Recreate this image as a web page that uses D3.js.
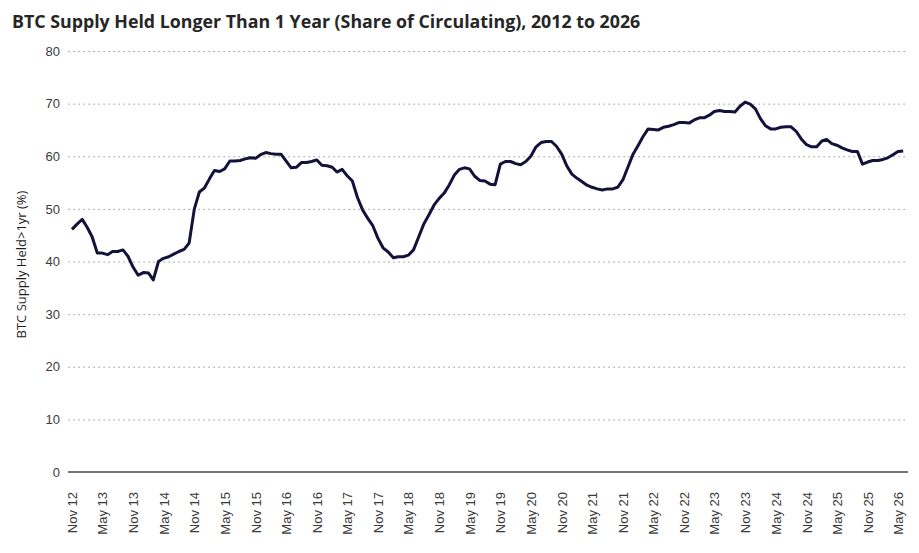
<!DOCTYPE html>
<html lang="en">
<head>
	<meta charset="UTF-8">
	<title>BTC Supply Held Longer Than 1 Year</title>
	<script src="https://cdn.jsdelivr.net/npm/d3@7"></script>
	<style>
		body { margin: 0; background: #fff; }
		.title {
			font-family: "Open Sans", sans-serif;
			font-weight: 700;
			font-size: 17.8px;
			fill: #262626;
		}
		.tick text {
			font-family: "Liberation Sans", Arial, sans-serif;
			font-size: 13px;
			fill: #3a3a3a;
		}
		.grid-line {
			stroke: #7a7a7a;
			stroke-width: 1;
			stroke-dasharray: 1.2 3.8;
		}
		.axis-title {
			font-family: "Open Sans", sans-serif;
			font-size: 13px;
			fill: #1e1e1e;
		}
	</style>
</head>
<body>
	<div id="container"></div>
</body>
<script>
	const width = 919,
		height = 553;

	// monthly readings, first month Nov 2012
	const startMonth = new Date(2012, 10, 1);
	const heldOver1yr = [
		46.1, 47.1, 48.0, 46.4, 44.7, 41.6, 41.6, 41.3, 41.9, 41.9, 42.2, 41.0,
		38.9, 37.4, 37.9, 37.8, 36.5, 40.0, 40.6, 40.9, 41.4, 41.9, 42.3, 43.5,
		50.0, 53.2, 54.0, 55.8, 57.3, 57.1, 57.6, 59.1, 59.1, 59.2, 59.5, 59.7,
		59.6, 60.3, 60.7, 60.5, 60.4, 60.4, 59.1, 57.8, 57.9, 58.8, 58.8, 59.0,
		59.3, 58.3, 58.2, 57.9, 57.0, 57.5, 56.3, 55.3, 52.2, 49.8, 48.2, 46.8,
		44.4, 42.6, 41.8, 40.7, 40.9, 40.9, 41.2, 42.2, 44.6, 47.1, 48.9, 50.7,
		52.0, 53.0, 54.6, 56.5, 57.5, 57.8, 57.6, 56.2, 55.4, 55.3, 54.7, 54.6,
		58.5, 59.0, 59.0, 58.6, 58.4, 59.0, 60.0, 61.8, 62.6, 62.8, 62.8, 61.9,
		60.4, 58.2, 56.6, 55.8, 55.2, 54.5, 54.1, 53.8, 53.6, 53.8, 53.8, 54.1,
		55.5, 57.9, 60.4, 62.1, 63.7, 65.2, 65.1, 65.0, 65.5, 65.7, 66.0, 66.4,
		66.4, 66.3, 66.9, 67.3, 67.3, 67.8, 68.5, 68.7, 68.5, 68.5, 68.4, 69.5,
		70.3, 69.9, 69.0, 67.1, 65.8, 65.2, 65.2, 65.5, 65.6, 65.6, 64.7, 63.3,
		62.2, 61.8, 61.8, 62.9, 63.2, 62.4, 62.1, 61.6, 61.2, 60.9, 60.9, 58.5,
		58.9, 59.2, 59.2, 59.4, 59.7, 60.3, 60.9, 61.0
	];
	const yTicks = [0, 10, 20, 30, 40, 50, 60, 70, 80];
	const lastTickMonth = new Date(2026, 4, 1); // May 26

	const months = heldOver1yr.map((v, i) => d3.timeMonth.offset(startMonth, i));
	const data = months.map((m, i) => ({ date: m, value: heldOver1yr[i] }));
	// Nov / May every six months
	const xTicks = d3.timeMonth.range(startMonth, d3.timeMonth.offset(lastTickMonth, 1), 6);

	const plotLeft = 68, plotRight = 908;

	const x = d3.scaleTime()
		.domain([startMonth, lastTickMonth])
		.range([72, 898]);

	const y = d3.scaleLinear()
		.domain([0, 80])
		.range([472, 51]);

	const svg = d3.select('#container')
		.append('svg')
		.attr('width', width)
		.attr('height', height);

	svg.append('text')
		.attr('class', 'title')
		.attr('x', 12)
		.attr('y', 28)
		.text('BTC Supply Held Longer Than 1 Year (Share of Circulating), 2012 to 2026');

	// y axis, labels only, dotted grid lines
	const yAxis = svg.append('g')
		.attr('class', 'y-axis')
		.attr('transform', `translate(${plotLeft}, 0)`)
		.call(d3.axisLeft(y).tickValues(yTicks).tickSize(0).tickPadding(8));
	yAxis.select('.domain').remove();

	yAxis.selectAll('g.tick')
		.filter(d => d > 0)
		.append('line')
		.classed('grid-line', true)
		.attr('x1', 0.5)
		.attr('x2', plotRight - plotLeft);

	svg.append('line')
		.attr('x1', plotLeft)
		.attr('x2', plotRight)
		.attr('y1', y(0))
		.attr('y2', y(0))
		.attr('stroke', '#4a4a4a')
		.attr('stroke-width', 1.5);

	svg.append('text')
		.attr('class', 'axis-title')
		.attr('transform', `translate(26, ${y(40) + 3}) rotate(-90)`)
		.attr('text-anchor', 'middle')
		.text('BTC Supply Held>1yr (%)');

	// x axis: Nov and May labels, rotated
	const xAxis = svg.append('g')
		.attr('class', 'x-axis')
		.attr('transform', `translate(0, ${y(0)})`)
		.call(d3.axisBottom(x)
			.tickValues(xTicks)
			.tickSize(0)
			.tickFormat(d3.timeFormat('%b %y')));
	xAxis.select('.domain').remove();
	xAxis.selectAll('text')
		.attr('transform', 'rotate(-90)')
		.attr('text-anchor', 'end')
		.attr('x', -20)
		.attr('y', 0)
		.attr('dy', '0.35em');

	const line = d3.line()
		.x(d => x(d.date))
		.y(d => y(d.value));

	svg.append('path')
		.datum(data)
		.attr('fill', 'none')
		.attr('stroke', '#12123a')
		.attr('stroke-width', 3)
		.attr('stroke-linejoin', 'round')
		.attr('d', line);
</script>
</html>
